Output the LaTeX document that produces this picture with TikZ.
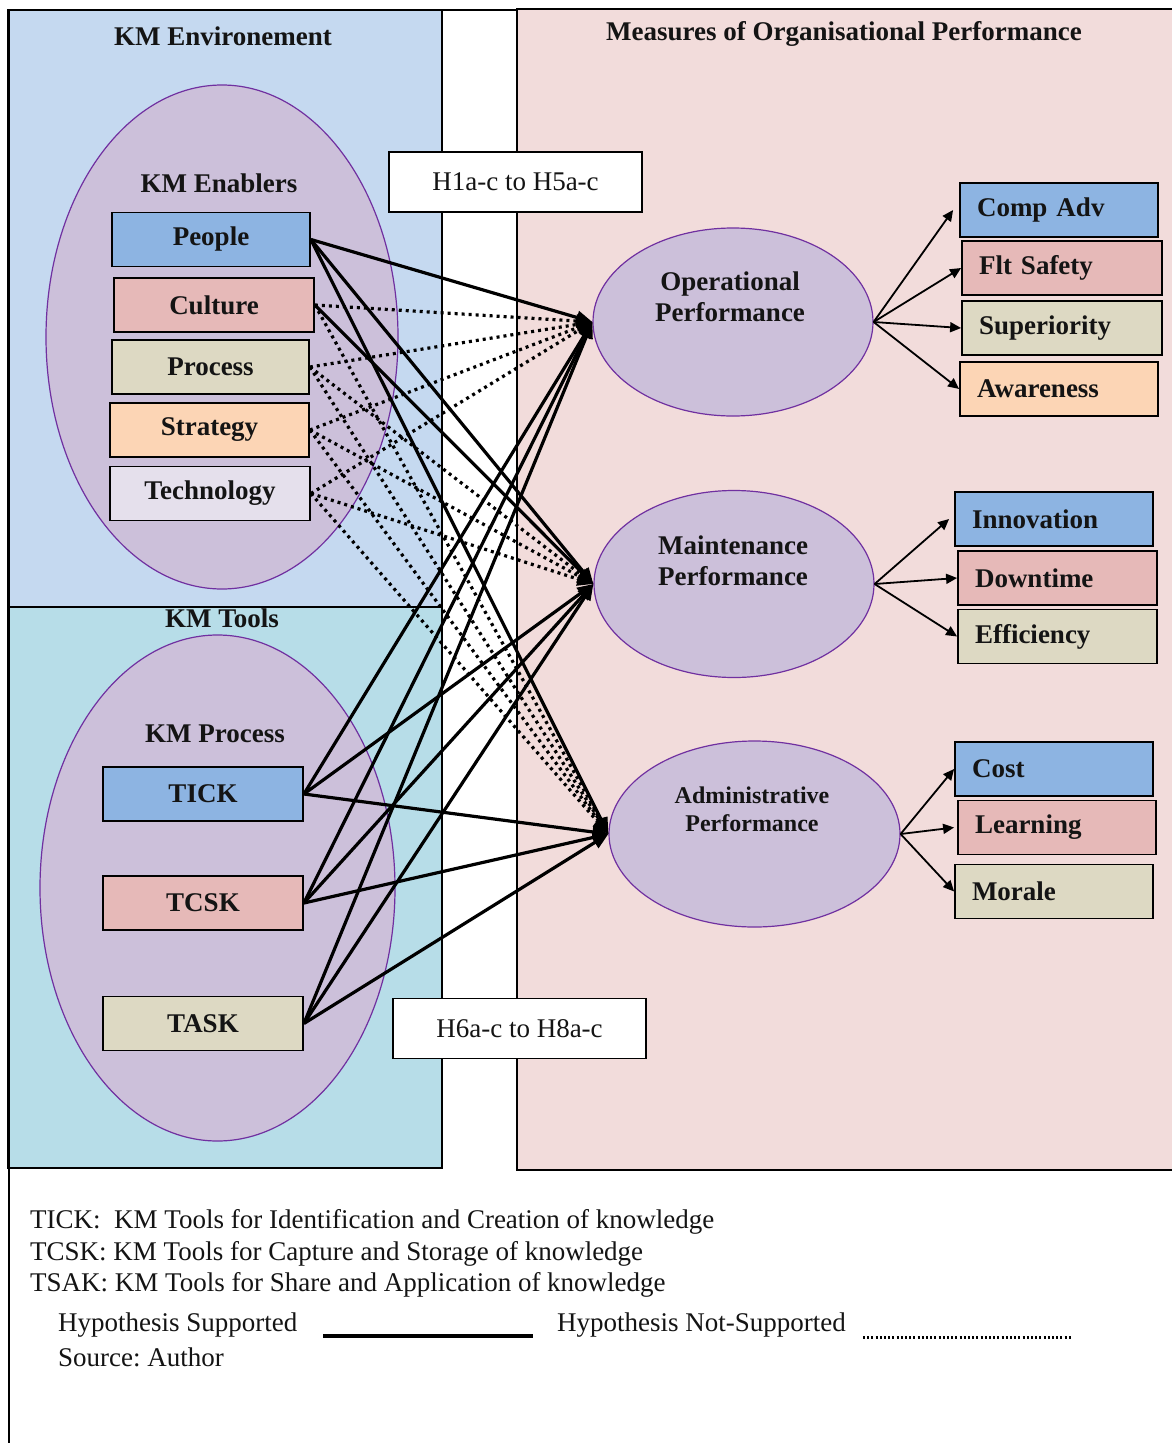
\documentclass[tikz,border=0pt]{standalone}
\usepackage{fontspec}
\setmainfont{Liberation Serif}
\usetikzlibrary{arrows.meta,shapes.geometric}

\definecolor{envblue}{RGB}{197,217,240}
\definecolor{tooltea}{RGB}{183,221,232}
\definecolor{perfpink}{RGB}{242,220,219}
\definecolor{lilac}{RGB}{204,192,218}
\definecolor{lilacedge}{RGB}{112,48,160}
\definecolor{cblue}{RGB}{141,180,226}
\definecolor{cpink}{RGB}{230,185,184}
\definecolor{cbeige}{RGB}{221,217,195}
\definecolor{corange}{RGB}{252,213,181}
\definecolor{clav}{RGB}{229,224,236}
\definecolor{ink}{RGB}{20,20,20}

\newcommand{\lblfont}{\fontsize{27}{31}\selectfont\bfseries}
\newcommand{\smlblfont}{\fontsize{24}{28}\selectfont\bfseries}
\newcommand{\plainfont}{\fontsize{27}{31}\selectfont}
\frenchspacing

\begin{document}
\begin{tikzpicture}[x=1pt,y=-1pt,
  panel/.style={draw=black,line width=1.4pt},
  bubble/.style={ellipse,draw=lilacedge,line width=1.2pt,fill=lilac,inner sep=0pt},
  cbox/.style={draw=black,line width=1.8pt,inner sep=0pt,minimum height=54pt,font=\lblfont,text=ink},
  mbox/.style={cbox,inner xsep=17pt,align=left},
  hbox/.style={draw=black,line width=1.5pt,fill=white,minimum width=253pt,minimum height=60pt,inner sep=0pt,font=\plainfont,text=ink},
  title/.style={font=\lblfont,text=ink,inner sep=0pt},
  legtext/.style={font=\plainfont,text=ink,inner sep=0pt,anchor=west},
  sup/.style={draw=black,line width=3.2pt,-{Triangle[length=16pt,width=13pt]}},
  nsup/.style={draw=black,line width=3.2pt,dash pattern=on 3pt off 4pt,-{Triangle[length=16pt,width=13pt]}},
  ind/.style={draw=black,line width=1.8pt,-{Triangle[length=11pt,width=10pt]}}
]
\useasboundingbox (0,0) rectangle (1172,1443);
\fill[white] (0,0) rectangle (1172,1443);

% panels
\filldraw[panel,fill=envblue] (8,10) rectangle (442,607);
\filldraw[panel,fill=tooltea] (8,607) rectangle (442,1168);
\filldraw[panel,fill=perfpink] (517,9) rectangle (1175,1170);
% outer frame
\draw[line width=1.4pt] (9,1443) -- (9,10) -- (517,10);

% panel titles
\node[title] (tenv) at (223,36) {KM Environement};
\node[title] (tperf) at (844,34) {Measures of Organisational Performance};

% grouping ellipses
\node[bubble,minimum width=352pt,minimum height=504pt] (enab) at (222,337) {};
\node[bubble,minimum width=355pt,minimum height=506pt] (proc) at (217.5,888) {};
\node[title] (tenab) at (219,183) {KM Enablers};
\node[title] (ttools) at (222,618) {KM Tools};
\node[title] (tproc) at (215,734) {KM Process};

% KM enablers
\node[cbox,fill=cblue,minimum width=198pt] (people) at (211,239.5) {People};
\node[cbox,fill=cpink,minimum width=200pt] (culture) at (214,305) {Culture};
\node[cbox,fill=cbeige,minimum width=197pt] (process) at (210.5,367) {Process};
\node[cbox,fill=corange,minimum width=199pt] (strategy) at (209.5,430) {Strategy};
\node[cbox,fill=clav,minimum width=200pt] (technology) at (210,493.5) {Technology};

% KM tools
\node[cbox,fill=cblue,minimum width=200pt] (tick) at (203,794) {TICK};
\node[cbox,fill=cpink,minimum width=200pt] (tcsk) at (203,903) {TCSK};
\node[cbox,fill=cbeige,minimum width=200pt] (task) at (203,1023.5) {TASK};

% hypothesis labels
\node[hbox] (hya) at (515.5,182) {H1a-c to H5a-c};
\node[hbox] (hyb) at (519.5,1028.5) {H6a-c to H8a-c};

% performance constructs
\node[bubble,minimum width=280pt,minimum height=188pt] (op) at (733,322) {};
\node[bubble,minimum width=280pt,minimum height=187pt] (mt) at (734,584) {};
\node[bubble,minimum width=291pt,minimum height=186pt] (ad) at (754.5,834) {};
\node[title,align=center] (oplab) at (730,297) {Operational\\Performance};
\node[title,align=center] (mtlab) at (733,561) {Maintenance\\Performance};
\node[font=\smlblfont,text=ink,inner sep=0pt,align=center] (adlab) at (752,809) {Administrative\\Performance};

% indicators
\node[mbox,fill=cblue,text width=164pt] (compadv) at (1059,210) {Comp Adv};
\node[mbox,fill=cpink,text width=166pt] (flt) at (1062,268) {Flt Safety};
\node[mbox,fill=cbeige,text width=166pt] (sup) at (1062,328) {Superiority};
\node[mbox,fill=corange,text width=164pt] (aware) at (1059,389) {Awareness};
\node[mbox,fill=cblue,text width=164pt] (innov) at (1054,519) {Innovation};
\node[mbox,fill=cpink,text width=165pt] (down) at (1057.5,578) {Downtime};
\node[mbox,fill=cbeige,text width=165pt] (eff) at (1057.5,636.5) {Efficiency};
\node[mbox,fill=cblue,text width=164pt] (cost) at (1054,769) {Cost};
\node[mbox,fill=cpink,text width=164pt] (learn) at (1057,827.5) {Learning};
\node[mbox,fill=cbeige,text width=164pt] (morale) at (1054,891.5) {Morale};

\draw[ind] (op.east) -- ([xshift=-6pt]compadv.west);
\draw[ind] (op.east) -- (flt.west);
\draw[ind] (op.east) -- (sup.west);
\draw[ind] (op.east) -- (aware.west);
\draw[ind] (mt.east) -- ([xshift=-5pt]innov.west);
\draw[ind] (mt.east) -- (down.west);
\draw[ind] (mt.east) -- (eff.west);
\draw[ind] (ad.east) -- (cost.west);
\draw[ind] (ad.east) -- ([xshift=-3pt]learn.west);
\draw[ind] (ad.east) -- (morale.west);

% hypothesised paths: enablers
\draw[sup] (people.east) -- (op.west);
\draw[sup] (people.east) -- (mt.west);
\draw[sup] (people.east) -- (ad.west);
\draw[nsup] (culture.east) -- (op.west);
\draw[sup] (culture.east) -- (mt.west);
\draw[nsup] (culture.east) -- (ad.west);
\draw[nsup] (process.east) -- (op.west);
\draw[nsup] (process.east) -- (mt.west);
\draw[nsup] (process.east) -- (ad.west);
\draw[nsup] (strategy.east) -- (op.west);
\draw[nsup] (strategy.east) -- (mt.west);
\draw[nsup] (strategy.east) -- (ad.west);
\draw[nsup] (technology.east) -- (op.west);
\draw[nsup] (technology.east) -- (mt.west);
\draw[nsup] (technology.east) -- (ad.west);

% hypothesised paths: tools
\draw[sup] (tick.east) -- (op.west);
\draw[sup] (tick.east) -- (mt.west);
\draw[sup] (tick.east) -- (ad.west);
\draw[sup] (tcsk.east) -- (op.west);
\draw[sup] (tcsk.east) -- (mt.west);
\draw[sup] (tcsk.east) -- (ad.west);
\draw[sup] (task.east) -- (op.west);
\draw[sup] (task.east) -- (mt.west);
\draw[sup] (task.east) -- (ad.west);

% key
\node[legtext] (k1) at (30,1222) {TICK:\ \ KM Tools for Identification and Creation of knowledge};
\node[legtext] (k2) at (30,1254) {TCSK: KM Tools for Capture and Storage of knowledge};
\node[legtext] (k3) at (30,1285) {TSAK: KM Tools for Share and Application of knowledge};
\node[legtext] (k4) at (58,1325) {Hypothesis Supported};
\node[legtext] (k5) at (557,1325) {Hypothesis Not-Supported};
\node[legtext] (k6) at (58,1357) {Source: Author};
\coordinate (la) at (323,1336);
\coordinate (lb) at (533,1336);
\coordinate (lc) at (863,1337);
\coordinate (ld) at (1072,1337);
\draw[line width=4.5pt] (la) -- (lb);
\draw[line width=3pt,dash pattern=on 2pt off 2.2pt] (lc) -- (ld);
\end{tikzpicture}
\end{document}
